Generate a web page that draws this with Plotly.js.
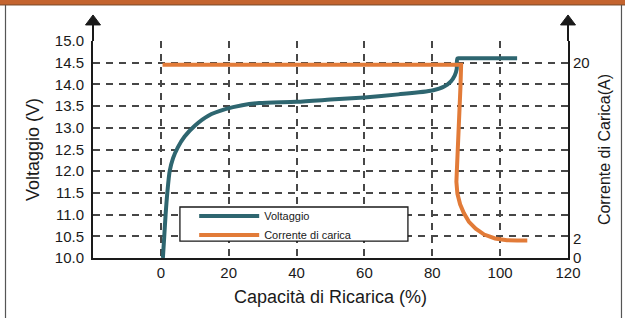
<!DOCTYPE html>
<html><head><meta charset="utf-8">
<script src="https://cdn.plot.ly/plotly-3.0.1.min.js"></script>
<style>html,body{margin:0;padding:0;background:#fff;}#chart{width:625px;height:318px;}</style>
</head><body><div id="chart"></div>
<script>
// Voltage curve (Voltaggio, V) vs charge capacity (%)
const capacityV = [0.6, 1.0, 1.4, 1.9, 2.6, 3.6, 5.0, 7.0, 10, 14, 19, 24, 29, 40, 50, 60, 70, 80, 83.5, 85.5, 86.6, 87.2, 87.4, 88.4, 90, 105];
const voltage   = [10.0, 10.5, 11.0, 11.5, 12.0, 12.3, 12.55, 12.8, 13.05, 13.28, 13.43, 13.52, 13.57, 13.6, 13.65, 13.7, 13.77, 13.86, 13.95, 14.07, 14.2, 14.35, 14.6, 14.6, 14.6, 14.6];
// Charge current curve (Corrente di carica, A) vs charge capacity (%)
const capacityI = [0.5, 88.5, 88.3, 88.0, 87.6, 87.3, 87.1, 87.1, 87.4, 88.2, 89.3, 90.8, 92.8, 95.3, 98.5, 102, 105, 108];
const current   = [19.8, 19.8, 17.5, 15.4, 13.0, 11.0, 9.0, 7.8, 6.6, 5.5, 4.6, 3.7, 3.0, 2.4, 2.0, 1.82, 1.78, 1.78];

const xTicks = [0, 20, 40, 60, 80, 100, 120];
const yTicks = [10.0, 10.5, 11.0, 11.5, 12.0, 12.5, 13.0, 13.5, 14.0, 14.5, 15.0];
const yTickText = ["10.0", "10.5", "11.0", "11.5", "12.0", "12.5", "13.0", "13.5", "14.0", "14.5", "15.0"];
const y2Ticks = [0, 2, 20];
const seriesNames = ["Voltaggio", "Corrente di carica"];

const TEAL = '#2e6670', ORANGE = '#e27b38', INK = '#1a1a1a', GRID = '#474747';
const FONT = '"Liberation Sans", Arial, sans-serif';

const traces = [
  {x: capacityV, y: voltage, name: seriesNames[0], type: 'scatter', mode: 'lines',
   line: {color: TEAL, width: 4, shape: 'spline', smoothing: 0.7}, yaxis: 'y'},
  {x: capacityI, y: current, name: seriesNames[1], type: 'scatter', mode: 'lines',
   line: {color: ORANGE, width: 4}, yaxis: 'y2'}
];

const hw = 7.5 / 475;
const layout = {
  width: 625, height: 318,
  margin: {l: 93, r: 57, t: 41, b: 60},
  paper_bgcolor: '#fff', plot_bgcolor: 'rgba(0,0,0,0)',
  font: {family: FONT, color: INK, size: 15},
  showlegend: true,
  legend: {x: 0.213, y: 0.26, xanchor: 'left', yanchor: 'top', bgcolor: 'rgba(0,0,0,0)',
           borderwidth: 0, font: {size: 11, color: INK}, itemwidth: 60},
  xaxis: {range: [-20, 120], tickvals: xTicks, showgrid: true, gridcolor: GRID, griddash: '7px,6px',
          gridwidth: 2, showline: true, linecolor: INK, linewidth: 2, zeroline: false, ticks: '',
          tickfont: {size: 15}, automargin: false,
          title: {text: 'Capacità di Ricarica (%)', font: {size: 18}, standoff: 10}},
  yaxis: {range: [10, 15], tickvals: yTicks, ticktext: yTickText, showgrid: true, gridcolor: GRID,
          griddash: '7px,6px', gridwidth: 2, showline: true, linecolor: INK, linewidth: 2,
          zeroline: false, ticks: '', tickfont: {size: 15}, automargin: false, ticklabelstandoff: 4,
          title: {text: 'Voltaggio (V)', font: {size: 18}, standoff: 10}},
  yaxis2: {range: [0, 22.222], tickvals: y2Ticks, overlaying: 'y', side: 'right', showgrid: false,
           showline: true, linecolor: INK, linewidth: 2, zeroline: false, ticks: '',
           tickfont: {size: 15}, automargin: false,
           title: {text: 'Corrente di Carica(A)', font: {size: 16}, standoff: 10}},
  shapes: [
    // axis extensions and arrowheads
    {type: 'line', xref: 'paper', yref: 'paper', x0: 0, x1: 0, y0: 1, y1: 1.076, line: {color: INK, width: 2}},
    {type: 'line', xref: 'paper', yref: 'paper', x0: 1, x1: 1, y0: 1, y1: 1.076, line: {color: INK, width: 2}},
    {type: 'path', xref: 'paper', yref: 'paper', path: `M ${-hw} 1.074 L ${hw} 1.074 L 0 1.12 Z`,
     fillcolor: INK, line: {color: INK, width: 1}},
    {type: 'path', xref: 'paper', yref: 'paper', path: `M ${1 - hw} 1.074 L ${1 + hw} 1.074 L 1 1.12 Z`,
     fillcolor: INK, line: {color: INK, width: 1}},
    // legend box
    {type: 'rect', xref: 'paper', yref: 'paper', x0: 0.183, x1: 0.663, y0: 0.078, y1: 0.235,
     fillcolor: '#fff', line: {color: INK, width: 1.3}, layer: 'above'},
    // page frame
    {type: 'rect', xref: 'paper', yref: 'paper', x0: -0.25, x1: 1.2, y0: 1.166, y1: 1.25,
     fillcolor: '#c4642f', line: {width: 0}},
    {type: 'line', xref: 'paper', yref: 'paper', x0: -0.25, x1: 1.2, y0: 1.166, y1: 1.166,
     line: {color: '#7a4a2a', width: 1}},
    {type: 'line', xref: 'paper', yref: 'paper', x0: -0.1842, x1: -0.1842, y0: -0.3, y1: 1.166,
     line: {color: '#555', width: 1.2}},
    {type: 'line', xref: 'paper', yref: 'paper', x0: 1.1126, x1: 1.1126, y0: -0.3, y1: 1.166,
     line: {color: '#555', width: 1.2}}
  ]
};

Plotly.newPlot('chart', traces, layout, {displayModeBar: false, staticPlot: true});
</script>
</body></html>
